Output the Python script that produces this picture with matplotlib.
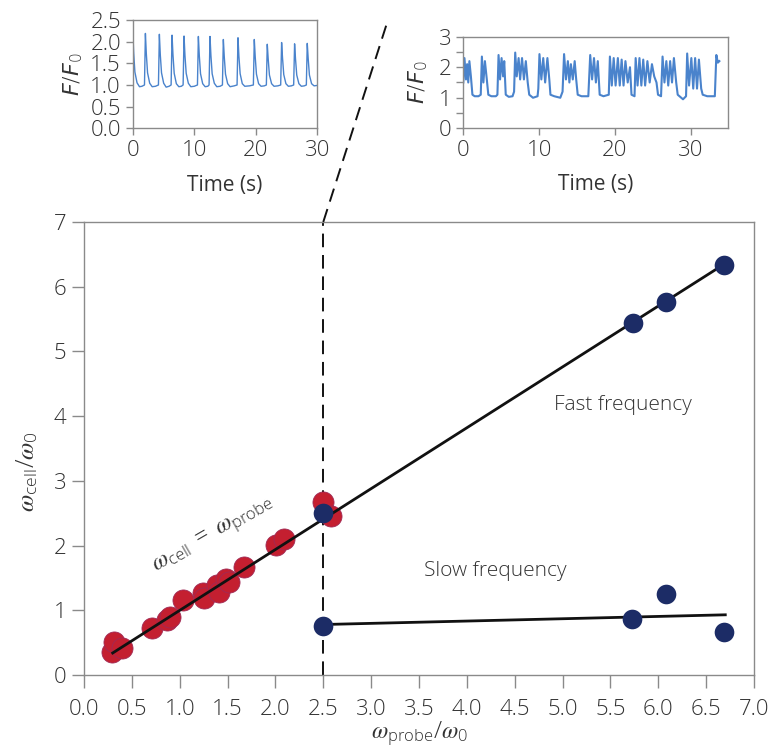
import matplotlib
matplotlib.use("Agg")
import matplotlib.pyplot as plt
from matplotlib.lines import Line2D

plt.rcParams["font.family"] = ["Open Sans", "DejaVu Sans"]
plt.rcParams["font.weight"] = "light"
plt.rcParams["mathtext.fontset"] = "custom"
plt.rcParams["mathtext.rm"] = "Open Sans"
plt.rcParams["mathtext.it"] = "STIXGeneral:italic"
plt.rcParams["mathtext.sf"] = "Open Sans"

# --- main panel data ---
red_x = [0.29, 0.31, 0.40, 0.71, 0.87, 0.90, 1.03, 1.24, 1.25, 1.39, 1.41,
         1.48, 1.52, 1.67, 2.01, 2.09, 2.50, 2.58]
red_y = [0.36, 0.51, 0.41, 0.72, 0.85, 0.90, 1.16, 1.26, 1.19, 1.39, 1.29,
         1.49, 1.44, 1.67, 2.01, 2.10, 2.68, 2.45]
fast_x = [2.50, 5.74, 6.08, 6.69]
fast_y = [2.51, 5.44, 5.77, 6.34]
slow_x = [2.50, 5.73, 6.08, 6.69]
slow_y = [0.76, 0.86, 1.25, 0.67]
fast_fit_x = [0.30, 6.69]
fast_fit_y = [0.34, 6.35]
slow_fit_x = [2.50, 6.70]
slow_fit_y = [0.78, 0.93]
split_x = 2.5

# --- left inset trace (regular beating) ---
left_t = [0.00, 0.15, 0.35, 0.70, 1.10, 1.50, 1.91, 2.06, 2.21, 2.41, 2.76, 3.16,
          3.70, 4.18, 4.33, 4.48, 4.68, 5.03, 5.43, 5.90, 6.24, 6.39, 6.54, 6.74,
          7.09, 7.49, 7.90, 8.19, 8.34, 8.49, 8.69, 9.04, 9.44, 10.00, 10.52, 10.67,
          10.82, 11.02, 11.37, 11.77, 12.20, 12.41, 12.56, 12.71, 12.91, 13.26, 13.66,
          14.20, 14.58, 14.73, 14.88, 15.08, 15.43, 15.83, 16.50, 16.96, 17.11, 17.26,
          17.46, 17.81, 18.21, 19.00, 19.61, 19.76, 19.91, 20.11, 20.46, 20.86, 21.40,
          21.72, 21.87, 22.02, 22.22, 22.57, 22.97, 23.60, 24.05, 24.20, 24.35, 24.55,
          24.90, 25.30, 25.80, 26.16, 26.31, 26.46, 26.66, 27.01, 27.41, 27.90, 28.22,
          28.37, 28.52, 28.72, 29.07, 29.47, 30.00]
left_f = [2.28, 1.75, 1.30, 1.05, 0.96, 0.97, 1.00, 2.19, 1.72, 1.28, 1.04, 0.96,
          0.97, 1.00, 2.17, 1.70, 1.28, 1.04, 0.95, 0.97, 1.00, 2.15, 1.70, 1.27,
          1.03, 0.96, 0.97, 1.00, 2.13, 1.68, 1.27, 1.04, 0.96, 0.97, 1.00, 2.12,
          1.68, 1.26, 1.03, 0.96, 0.97, 1.00, 2.12, 1.68, 1.26, 1.04, 0.96,
          0.97, 1.00, 2.05, 1.65, 1.25, 1.03, 0.96, 0.98, 1.00, 2.09, 1.66,
          1.26, 1.03, 0.97, 0.98, 1.00, 2.05, 1.65, 1.25, 1.03, 0.97, 0.98,
          1.00, 1.94, 1.60, 1.23, 1.03, 0.97, 0.98, 1.00, 1.98, 1.62, 1.24,
          1.03, 0.97, 0.98, 1.00, 1.95, 1.60, 1.23, 1.03, 0.97, 0.98, 1.00,
          1.96, 1.61, 1.23, 1.03, 0.98, 0.99]

# --- right inset trace (burst firing) ---
right_t = [0.0, 0.15, 0.35, 0.5, 0.65, 0.8, 1.0, 1.2, 1.5, 2.0, 2.3, 2.45, 2.65,
           2.85, 3.1, 3.3, 3.7, 4.3, 4.5, 4.65, 4.85, 5.05, 5.25, 5.4, 5.6, 6.0,
           6.5, 6.7, 6.85, 7.05, 7.3, 7.5, 7.75, 8.0, 8.25, 8.5, 8.7, 9.2, 9.8,
           9.9, 10.05, 10.3, 10.55, 10.8, 11.1, 11.35, 11.5, 12.0, 12.8, 13.1,
           13.3, 13.55, 13.8, 14.0, 14.2, 14.45, 14.7, 14.9, 15.1, 15.6, 16.5,
           16.75, 17.0, 17.25, 17.5, 17.75, 18.0, 18.5, 19.2, 19.35, 19.6, 19.85,
           20.1, 20.4, 20.65, 20.9, 21.15, 21.4, 21.7, 22.0, 22.2, 22.6, 22.75,
           23.0, 23.25, 23.5, 23.75, 24.0, 24.3, 24.6, 24.9, 25.2, 25.5, 25.7,
           26.1, 26.3, 26.55, 26.8, 27.05, 27.3, 27.55, 27.8, 28.1, 28.3, 29.0,
           29.4, 29.55, 29.8, 30.1, 30.35, 30.6, 30.85, 31.1, 31.4, 31.6, 32.2,
           33.2, 33.4, 33.6, 33.8]
right_f = [1.5, 2.3, 1.6, 2.1, 1.5, 2.2, 1.7, 1.1, 1.05, 1.05, 1.1, 2.35, 1.5,
           2.2, 1.6, 1.1, 1.05, 1.05, 1.1, 2.4, 1.6, 2.3, 1.7, 2.2, 1.1, 1.03,
           1.05, 1.2, 2.48, 1.7, 2.3, 1.6, 2.3, 1.6, 2.2, 1.5, 1.1, 1.0, 1.05,
           1.3, 2.43, 1.6, 2.3, 1.5, 2.3, 1.6, 1.1, 1.05, 1.0, 1.2,
           2.43, 1.6, 2.2, 1.5, 2.1, 1.6, 2.2, 1.6, 1.1, 1.05, 1.05,
           2.4, 1.6, 2.3, 1.5, 2.2, 1.1, 1.05, 1.1, 2.35, 1.4, 2.3,
           1.4, 2.3, 1.4, 2.25, 1.4, 2.2, 1.5, 2.0, 1.1, 1.05, 2.3,
           1.4, 2.3, 1.4, 2.25, 1.4, 2.2, 1.5, 2.1, 1.7, 1.5, 1.1,
           1.05, 2.35, 1.5, 2.2, 1.4, 2.2, 1.5, 2.3, 1.5, 1.1, 0.95,
           1.05, 2.45, 1.4, 2.3, 1.3, 2.3, 1.3, 2.25, 1.3, 1.1, 1.05,
           1.05, 2.4, 2.15, 2.2]

RED = "#c41f30"
NAVY = "#1c2c66"
TRACE = "#4a83cc"
SPINE = "#8a8a8a"
TXT = "#333333"

fig = plt.figure(figsize=(7.69, 7.52), dpi=100)


def style(ax, fs):
    for s in ax.spines.values():
        s.set_color(SPINE)
        s.set_linewidth(1.0)
    ax.tick_params(direction="out", color=SPINE, labelcolor=TXT,
                   labelsize=fs, width=1.0)


# main panel
ax = fig.add_axes([0.1092, 0.1024, 0.8713, 0.6024])
style(ax, 16)
ax.tick_params(length=9)
ax.tick_params(axis="x", pad=8)
ax.plot(fast_fit_x, fast_fit_y, color="#111111", lw=2, zorder=3)
ax.plot(slow_fit_x, slow_fit_y, color="#111111", lw=2, zorder=3)
ax.axvline(split_x, color="#111111", lw=1.4, ls=(0, (7, 4)), zorder=1)
ax.scatter(red_x, red_y, s=230, color=RED, edgecolor="#a02a55", lw=0.6, zorder=2)
ax.scatter(fast_x, fast_y, s=200, color=NAVY, lw=0, zorder=4)
ax.scatter(slow_x, slow_y, s=200, color=NAVY, lw=0, zorder=4)
ax.set_xlim(0, 7)
ax.set_ylim(0, 7)
ax.set_xticks([i * 0.5 for i in range(15)])
ax.set_xticklabels(["%.1f" % (i * 0.5) for i in range(15)])
ax.set_yticks(range(8))
ax.set_xlabel(r"$\omega_{\mathrm{probe}}/\omega_{\mathrm{0}}$", fontsize=17,
              color=TXT)
ax.xaxis.set_label_coords(0.5, -0.10)
ax.set_ylabel(r"$\omega_{\mathrm{cell}}/\omega_{\mathrm{0}}$", fontsize=18,
              color=TXT)
ax.yaxis.set_label_coords(-0.065, 0.45)
ax.text(5.63, 4.17, "Fast frequency", fontsize=15, color=TXT,
        ha="center", va="center")
ax.text(4.30, 1.60, "Slow frequency", fontsize=15, color=TXT,
        ha="center", va="center")
ax.text(1.36, 2.15, r"$\omega_{\mathrm{cell}}\ =\ \omega_{\mathrm{probe}}$",
        fontsize=17, color=TXT, rotation=30,
        ha="center", va="center", rotation_mode="anchor")

# dashed guide up to the burst inset
p0 = fig.transFigure.inverted().transform(ax.transData.transform((split_x, 7)))
fig.add_artist(Line2D([p0[0], 0.5045], [p0[1], 0.9734], color="#111111",
                      lw=1.4, ls=(0, (7, 4)), transform=fig.transFigure))

# left inset
a1 = fig.add_axes([0.1726, 0.8294, 0.2400, 0.1440])
style(a1, 16)
a1.tick_params(length=5)
a1.plot(left_t, left_f, color=TRACE, lw=1.0)
a1.set_xlim(0, 30)
a1.set_ylim(0, 2.5)
a1.set_xticks([0, 10, 20, 30])
a1.set_yticks([0, 0.5, 1.0, 1.5, 2.0, 2.5])
a1.set_yticklabels(["0.0", "0.5", "1.0", "1.5", "2.0", "2.5"])
a1.set_xlabel("Time (s)", fontsize=15, color=TXT, labelpad=10)
a1.set_ylabel(r"$F/F_0$", fontsize=16, color=TXT, labelpad=4,
              math_fontfamily="dejavusans")

# right inset
a2 = fig.add_axes([0.6025, 0.8294, 0.3438, 0.1218])
style(a2, 16)
a2.tick_params(length=5)
a2.plot(right_t, right_f, color=TRACE, lw=1.5)
a2.set_xlim(0, 34.9)
a2.set_ylim(0, 3)
a2.set_xticks([0, 10, 20, 30])
a2.set_yticks([0, 0.5, 1, 1.5, 2, 2.5, 3])
a2.set_yticklabels(["0", "", "1", "", "2", "", "3"])
a2.set_xlabel("Time (s)", fontsize=15, color=TXT, labelpad=9)
a2.set_ylabel(r"$F/F_0$", fontsize=16, color=TXT, labelpad=6,
              math_fontfamily="dejavusans")

fig.savefig("out.png", dpi=100)
